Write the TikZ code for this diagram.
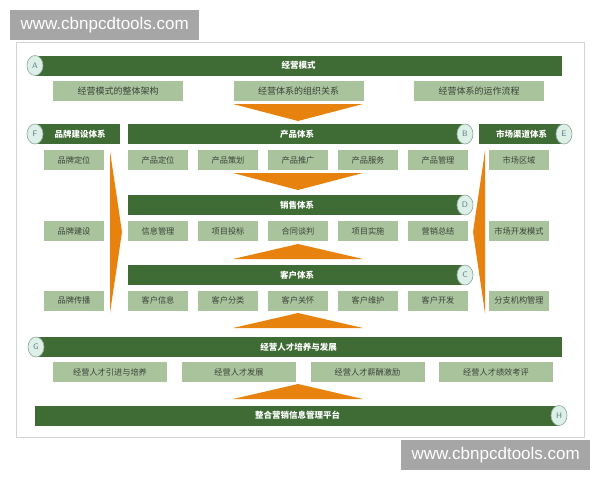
\documentclass[tikz,border=0pt]{standalone}
\usepackage{fontspec}
\newfontfamily\cjk{Noto Sans CJK SC}
\newfontfamily\wmfont{Liberation Sans}
\usetikzlibrary{shapes.geometric}
\definecolor{bargreen}{HTML}{3F6B35}
\definecolor{boxgreen}{HTML}{A9C49D}
\definecolor{boxtext}{HTML}{3C4239}
\definecolor{wedgeorange}{HTML}{E8820E}
\definecolor{tagfill}{HTML}{DDF0E8}
\definecolor{tagline}{HTML}{95ADA2}
\definecolor{tagtext}{HTML}{5F7F8A}
\definecolor{framegray}{HTML}{D4D4D4}
\definecolor{wmgray}{HTML}{A6A6A6}
\begin{document}
\begin{tikzpicture}
    [x=1pt, y=-1pt,
    bar/.style={fill=bargreen, text=white, font=\cjk\bfseries\fontsize{8.5}{10}\selectfont,
      minimum height=20pt, inner sep=0pt},
    subbox/.style={fill=boxgreen, text=boxtext, font=\cjk\fontsize{8.2}{10}\selectfont,
      minimum height=20pt, minimum width=60pt, inner sep=0pt},
    topbox/.style={subbox, font=\cjk\fontsize{9}{10}\selectfont, minimum width=130pt},
    talentbox/.style={subbox, minimum width=114pt},
    tag/.style={ellipse, draw=tagline, fill=tagfill, text=tagtext, line width=0.7pt,
      font=\sffamily\fontsize{8}{9}\selectfont, minimum width=16pt, minimum height=20pt, inner sep=0pt},
    wedge/.style={fill=wedgeorange},
    wmark/.style={fill=wmgray, text=white, font=\wmfont\fontsize{17}{19}\selectfont,
      minimum width=189pt, minimum height=30pt, inner sep=0pt, anchor=north west}]
    \useasboundingbox (0,0) rectangle (600,480);
    \draw[framegray, line width=1pt] (16,42) rectangle (584,437);
    \node[wmark] (wmtop) at (10,10) {www.cbnpcdtools.com};
    \node[wmark] (wmbottom) at (401,440) {www.cbnpcdtools.com};
    % A
    \node[bar, minimum width=527pt] (modeA) at (298.5,65.5) {经营模式};
    \node[tag] (A) at (35,65.5) {A};
    \node[topbox] (a1) at (118,91) {经营模式的整体架构};
    \node[topbox] (a2) at (298.5,91) {经营体系的组织关系};
    \node[topbox] (a3) at (479,91) {经营体系的运作流程};
    % F, B, E
    \node[bar, minimum width=83pt] (brandF) at (78,134) {\hspace{4pt}品牌建设体系};
    \node[tag] (F) at (35,134) {F};
    \node[bar, minimum width=338pt] (productB) at (297,134) {产品体系};
    \node[tag] (B) at (465,134) {B};
    \node[bar, minimum width=85pt] (marketE) at (521.5,134) {市场渠道体系\hspace{2pt}};
    \node[tag] (E) at (564,134) {E};
    \node[subbox] (f1) at (74,160) {品牌定位};
    \node[subbox] (f2) at (74,231) {品牌建设};
    \node[subbox] (f3) at (74,300.5) {品牌传播};
    \node[subbox] (e1) at (519,160) {市场区域};
    \node[subbox] (e2) at (519,231) {市场开发模式};
    \node[subbox] (e3) at (519,300.5) {分支机构管理};
    \node[subbox] (p1) at (158,160) {产品定位};
    \node[subbox] (p2) at (228,160) {产品策划};
    \node[subbox] (p3) at (298,160) {产品推广};
    \node[subbox] (p4) at (368,160) {产品服务};
    \node[subbox] (p5) at (438,160) {产品管理};
    % D
    \node[bar, minimum width=338pt] (salesD) at (297,205) {销售体系};
    \node[tag] (D) at (465,205) {D};
    \node[subbox] (s1) at (158,231) {信息管理};
    \node[subbox] (s2) at (228,231) {项目投标};
    \node[subbox] (s3) at (298,231) {合同谈判};
    \node[subbox] (s4) at (368,231) {项目实施};
    \node[subbox] (s5) at (438,231) {营销总结};
    % C
    \node[bar, minimum width=338pt] (customerC) at (297,275) {客户体系};
    \node[tag] (C) at (465,275) {C};
    \node[subbox] (c1) at (158,300.5) {客户信息};
    \node[subbox] (c2) at (228,300.5) {客户分类};
    \node[subbox] (c3) at (298,300.5) {客户关怀};
    \node[subbox] (c4) at (368,300.5) {客户维护};
    \node[subbox] (c5) at (438,300.5) {客户开发};
    % G
    \node[bar, minimum width=527pt] (talentG) at (298.5,347) {经营人才培养与发展};
    \node[tag] (G) at (36,347) {G};
    \node[talentbox] (g1) at (110,372) {经营人才引进与培养};
    \node[talentbox] (g2) at (239,372) {经营人才发展};
    \node[talentbox] (g3) at (367.5,372) {经营人才薪酬激励};
    \node[talentbox] (g4) at (496,372) {经营人才绩效考评};
    % H
    \node[bar, minimum width=525pt] (platformH) at (297.5,415.5) {整合营销信息管理平台};
    \node[tag] (H) at (559,415.5) {H};
    % orange wedges
    \fill[wedge] (233,104) -- (363,104) -- (298,121) -- cycle;
    \fill[wedge] (233,173) -- (363,173) -- (298,190) -- cycle;
    \fill[wedge] (233,259) -- (363,259) -- (298,244) -- cycle;
    \fill[wedge] (233,328) -- (363,328) -- (298,313) -- cycle;
    \fill[wedge] (233,399) -- (363,399) -- (298,384) -- cycle;
    \fill[wedge] (110,151) -- (122,232) -- (110,313) -- cycle;
    \fill[wedge] (485,151) -- (473,232) -- (485,313) -- cycle;
\end{tikzpicture}
\end{document}
